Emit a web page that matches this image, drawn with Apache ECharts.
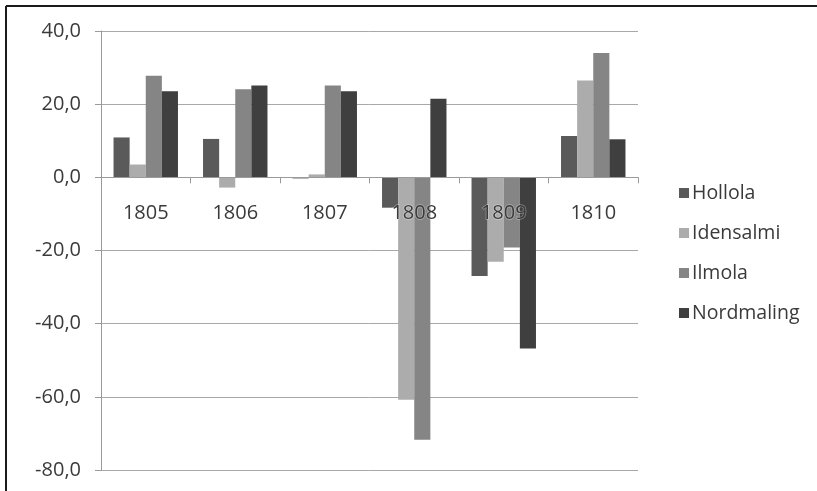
<!DOCTYPE html>
<html>
<head>
<meta charset="utf-8">
<script src="https://cdn.jsdelivr.net/npm/echarts@6/dist/echarts.min.js"></script>
<style>
  html, body { margin: 0; padding: 0; background: #fff; }
  #chart { width: 817px; height: 491px; }
</style>
</head>
<body>
<div id="chart"></div>
<script>
// Annual deviations per parish, 1805–1810
const years = ['1805', '1806', '1807', '1808', '1809', '1810'];
const hollola    = [10.9, 10.5, -0.3, -8.3, -27.0, 11.3];
const idensalmi  = [3.5, -2.8, 0.8, -60.8, -23.1, 26.5];
const ilmola     = [27.8, 24.1, 25.1, -71.7, -19.2, 34.0];
const nordmaling = [23.5, 25.1, 23.5, 21.5, -46.8, 10.4];
const yTicks = [-80, -60, -40, -20, 0, 20, 40];

const seriesDefs = [
  { name: 'Hollola', data: hollola, color: '#5a5a5a' },
  { name: 'Idensalmi', data: idensalmi, color: '#acacac' },
  { name: 'Ilmola', data: ilmola, color: '#858585' },
  { name: 'Nordmaling', data: nordmaling, color: '#3f3f3f' }
];

const FONT = 'Open Sans';
const TEXT = '#3a3a3a';
const GRID = { left: 101, right: 179, top: 31, bottom: 21 };
const CHART_H = 491;

// The category axis sits on the value-axis zero line; its offset is the
// distance from the grid's bottom edge up to where 0 falls on the y scale.
const yMin = yTicks[0];
const yMax = yTicks[yTicks.length - 1];
const plotH = CHART_H - GRID.top - GRID.bottom;
const zeroOffset = -plotH * (0 - yMin) / (yMax - yMin);

const chart = echarts.init(document.getElementById('chart'));
chart.setOption({
  animation: false,
  backgroundColor: '#ffffff',
  textStyle: { fontFamily: FONT },
  grid: Object.assign({ outerBoundsMode: 'none', containLabel: false }, GRID),
  legend: {
    orient: 'vertical',
    left: 674,
    top: 178,
    itemWidth: 10,
    itemHeight: 10,
    itemGap: 20,
    icon: 'rect',
    textStyle: { fontSize: 19.5, color: TEXT, fontFamily: FONT, padding: [0, 0, 0, -2] },
    data: seriesDefs.map(s => s.name)
  },
  xAxis: {
    type: 'category',
    data: years,
    position: 'bottom',
    offset: zeroOffset,
    z: 10,
    axisLine: { onZero: false, lineStyle: { color: '#9a9a9a', width: 1 } },
    axisTick: { show: true, length: 6, inside: false, lineStyle: { color: '#9a9a9a' } },
    axisLabel: {
      margin: 26,
      fontSize: 20,
      color: TEXT,
      fontFamily: FONT,
      textBorderColor: 'rgba(255,255,255,0.35)',
      textBorderWidth: 1.5
    },
    splitLine: { show: false }
  },
  yAxis: {
    type: 'value',
    min: yMin,
    max: yMax,
    interval: 20,
    axisLine: { show: true, lineStyle: { color: '#9a9a9a' } },
    axisTick: { show: true, length: 6, lineStyle: { color: '#9a9a9a' } },
    axisLabel: {
      margin: 20,
      fontSize: 20,
      color: TEXT,
      fontFamily: FONT,
      formatter: v => v.toFixed(1).replace('.', ',')
    },
    splitLine: { show: true, lineStyle: { color: '#a8a8a8', width: 1 } }
  },
  series: seriesDefs.map(s => ({
    name: s.name,
    type: 'bar',
    z: 2,
    data: s.data,
    barGap: '0%',
    barCategoryGap: '28%',
    itemStyle: { color: s.color }
  })),
  graphic: [
    { type: 'line', shape: { x1: 6, y1: 6, x2: 817, y2: 6 }, style: { stroke: '#1a1a1a', lineWidth: 2 } },
    { type: 'line', shape: { x1: 6, y1: 6, x2: 6, y2: 491 }, style: { stroke: '#1a1a1a', lineWidth: 2 } }
  ]
});
</script>
</body>
</html>
